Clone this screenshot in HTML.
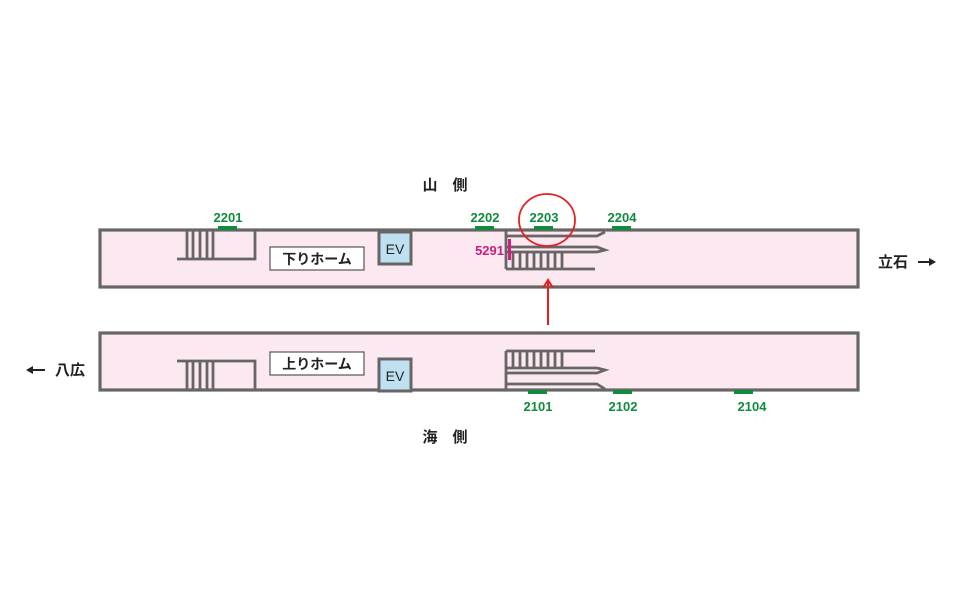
<!DOCTYPE html>
<html><head><meta charset="utf-8"><style>
html,body{margin:0;padding:0;background:#fff;}
svg{display:block;}
text{font-family:"Liberation Sans","Noto Sans CJK JP",sans-serif;}
</style></head><body>
<svg width="960" height="604" viewBox="0 0 960 604">
<g stroke="#666" stroke-width="3.2" fill="#fce8f0">
<rect x="100" y="230" width="758" height="57"/>
<rect x="100" y="333" width="758" height="57"/>
</g>
<g stroke="#666" stroke-width="2.8" fill="none">
<polyline points="177,259 255,259 255,231"/>
<path d="M187 231V259M193 231V259M200 231V259M207 231V259M213 231V259"/>
<polyline points="177,361 255,361 255,389"/>
<path d="M187 361V389M193 361V389M200 361V389M207 361V389M213 361V389"/>
<path d="M506 231V269"/>
<path d="M506 236H597L605 232"/>
<path d="M506 247H597L605 250L597 252"/>
<path d="M506 252H597"/>
<path d="M506 269H595"/>
<path d="M513 252V269M520 252V269M527 252V269M534 252V269M541 252V269M548 252V269M555 252V269M562 252V269"/>
<path d="M506 351V389"/>
<path d="M506 351H595"/>
<path d="M506 368H597"/>
<path d="M513 351V368M520 351V368M527 351V368M534 351V368M541 351V368M548 351V368M555 351V368M562 351V368"/>
<path d="M597 368L605 370L597 373H506"/>
<path d="M506 384H597L605 389"/>
</g>
<rect x="270" y="247" width="94" height="23" fill="#fff" stroke="#555" stroke-width="1.2"/>
<text x="317" y="264" font-size="14" font-weight="600" text-anchor="middle" fill="#222">下りホーム</text>
<rect x="270" y="352" width="94" height="23" fill="#fff" stroke="#555" stroke-width="1.2"/>
<text x="317" y="369" font-size="14" font-weight="600" text-anchor="middle" fill="#222">上りホーム</text>
<rect x="379" y="232" width="32" height="32" fill="#bfe0f0" stroke="#666" stroke-width="3"/>
<text x="395" y="254" font-size="14" text-anchor="middle" fill="#222">EV</text>
<rect x="379" y="359" width="32" height="32" fill="#bfe0f0" stroke="#666" stroke-width="3"/>
<text x="395" y="381" font-size="14" text-anchor="middle" fill="#222">EV</text>
<rect x="508" y="239" width="3" height="21" fill="#d0207f"/>
<text x="504" y="255" font-size="13" font-weight="bold" text-anchor="end" fill="#c8207a">5291</text>
<g fill="#108c3c">
<rect x="218" y="226" width="19" height="4"/>
<rect x="475" y="226" width="19" height="4"/>
<rect x="534" y="226" width="19" height="4"/>
<rect x="612" y="226" width="19" height="4"/>
<rect x="528" y="390" width="19" height="4"/>
<rect x="613" y="390" width="19" height="4"/>
<rect x="734" y="390" width="19" height="4"/>
</g>
<g fill="#108c3c" font-size="13" font-weight="bold" text-anchor="middle">
<text x="228" y="222">2201</text>
<text x="485" y="222">2202</text>
<text x="544" y="222">2203</text>
<text x="622" y="222">2204</text>
<text x="538" y="411">2101</text>
<text x="623" y="411">2102</text>
<text x="752" y="411">2104</text>
</g>
<ellipse cx="547" cy="220" rx="28" ry="26" fill="none" stroke="#e52020" stroke-width="1.8"/>
<line x1="548" y1="325" x2="548" y2="282" stroke="#e52020" stroke-width="2"/>
<polyline points="543,288 548,280 553,288" fill="none" stroke="#e52020" stroke-width="2"/>
<g font-size="15" font-weight="600" fill="#222">
<text x="445" y="190" text-anchor="middle">山　側</text>
<text x="445" y="442" text-anchor="middle">海　側</text>
<text x="878" y="267">立石</text>
<text x="55" y="375">八広</text>
</g>
<line x1="918" y1="262" x2="930" y2="262" stroke="#222" stroke-width="2"/>
<polygon points="929,258 936,262 929,266" fill="#222"/>
<line x1="32" y1="370" x2="45" y2="370" stroke="#222" stroke-width="2"/>
<polygon points="33,366 26,370 33,374" fill="#222"/>
</svg>
</body></html>
